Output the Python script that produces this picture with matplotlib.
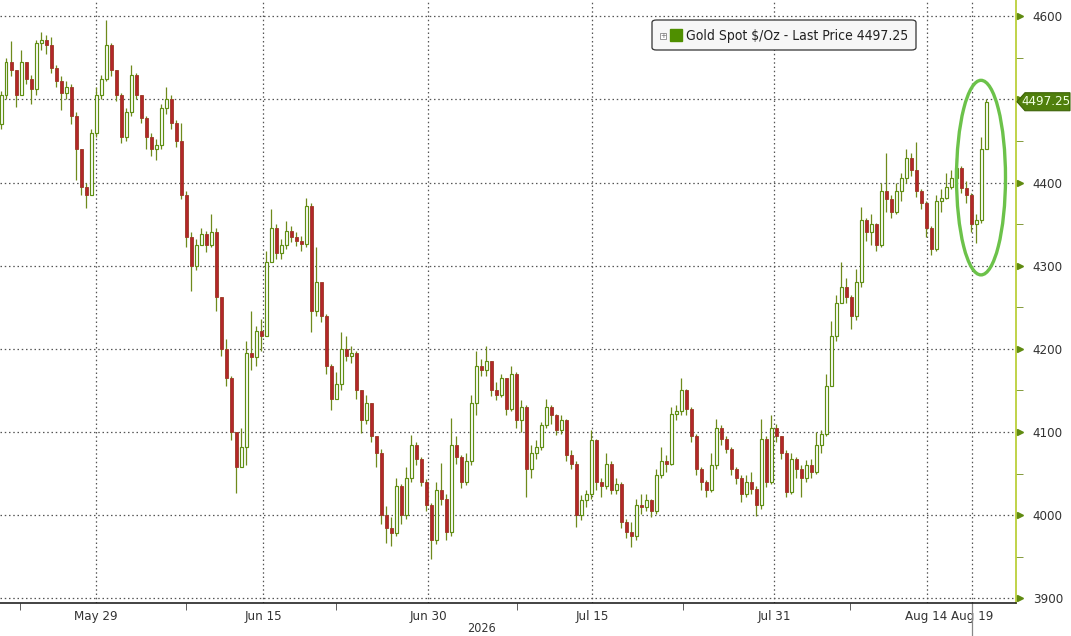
import matplotlib
matplotlib.use("Agg")
import matplotlib.pyplot as plt
import matplotlib.transforms as mtransforms
from matplotlib import font_manager
from matplotlib.patches import Ellipse, FancyBboxPatch, Rectangle, Polygon

# gold spot bars (open of each bar = previous close)
first_open = 4470
close = [4505, 4545, 4535, 4505, 4545, 4525, 4512, 4568, 4572, 4565,
         4538, 4522, 4508, 4515, 4480, 4440, 4395, 4385, 4460, 4505,
         4525, 4565, 4535, 4505, 4455, 4485, 4530, 4505, 4478, 4455,
         4440, 4445, 4490, 4500, 4472, 4450, 4385, 4335, 4300, 4325,
         4338, 4325, 4340, 4262, 4200, 4165, 4100, 4058, 4082, 4195,
         4190, 4222, 4215, 4305, 4345, 4315, 4325, 4342, 4335, 4330,
         4326, 4372, 4245, 4280, 4240, 4180, 4140, 4158, 4200, 4192,
         4195, 4150, 4115, 4135, 4095, 4075, 4000, 3985, 3978, 4035,
         4000, 4045, 4085, 4068, 4040, 4012, 3970, 4030, 4020, 3980,
         4085, 4070, 4040, 4065, 4135, 4180, 4175, 4185, 4150, 4145,
         4165, 4128, 4170, 4115, 4130, 4055, 4075, 4082, 4108, 4130,
         4120, 4102, 4115, 4072, 4062, 4000, 4018, 4025, 4090, 4040,
         4035, 4062, 4030, 4038, 3992, 3980, 3975, 4012, 4010, 4018,
         4005, 4048, 4065, 4062, 4122, 4125, 4150, 4128, 4095, 4055,
         4040, 4030, 4060, 4105, 4092, 4080, 4055, 4045, 4025, 4040,
         4032, 4012, 4092, 4040, 4105, 4095, 4075, 4028, 4068, 4055,
         4045, 4060, 4052, 4085, 4098, 4155, 4215, 4255, 4275, 4262,
         4240, 4280, 4355, 4340, 4350, 4325, 4390, 4380, 4365, 4390,
         4405, 4430, 4415, 4390, 4375, 4345, 4320, 4378, 4382, 4395,
         4405, 4418, 4393, 4385, 4350, 4355, 4440, 4497.25]
high = [4510, 4550, 4570, 4535, 4560, 4545, 4530, 4572, 4581, 4578,
        4575, 4542, 4528, 4522, 4518, 4485, 4440, 4400, 4465, 4515,
        4530, 4596, 4568, 4535, 4508, 4490, 4541, 4532, 4505, 4480,
        4460, 4452, 4495, 4515, 4505, 4475, 4472, 4390, 4340, 4332,
        4345, 4342, 4362, 4345, 4262, 4212, 4168, 4100, 4105, 4210,
        4246, 4228, 4236, 4318, 4368, 4350, 4332, 4354, 4348, 4340,
        4336, 4382, 4375, 4322, 4275, 4242, 4182, 4172, 4220, 4215,
        4203, 4198, 4150, 4145, 4135, 4090, 4080, 4011, 3998, 4045,
        4038, 4058, 4097, 4088, 4070, 4043, 4015, 4040, 4063, 4025,
        4117, 4095, 4072, 4075, 4145, 4197, 4188, 4203, 4185, 4160,
        4170, 4165, 4180, 4172, 4138, 4132, 4085, 4090, 4112, 4140,
        4133, 4122, 4120, 4116, 4078, 4065, 4024, 4030, 4103, 4092,
        4045, 4075, 4065, 4045, 4040, 3995, 3992, 4020, 4026, 4025,
        4020, 4055, 4082, 4072, 4130, 4132, 4165, 4152, 4130, 4098,
        4058, 4042, 4075, 4116, 4108, 4095, 4082, 4058, 4048, 4048,
        4052, 4035, 4116, 4095, 4120, 4110, 4095, 4078, 4075, 4070,
        4060, 4066, 4068, 4100, 4102, 4170, 4234, 4265, 4304, 4285,
        4265, 4296, 4371, 4358, 4362, 4352, 4400, 4435, 4385, 4400,
        4412, 4441, 4435, 4449, 4392, 4378, 4348, 4385, 4392, 4412,
        4415, 4430, 4420, 4402, 4388, 4362, 4455, 4500]
low = [4465, 4500, 4528, 4491, 4505, 4518, 4495, 4505, 4560, 4555,
       4532, 4515, 4487, 4500, 4470, 4403, 4385, 4370, 4385, 4455,
       4500, 4522, 4528, 4498, 4448, 4450, 4480, 4500, 4472, 4441,
       4432, 4427, 4440, 4482, 4465, 4443, 4380, 4322, 4270, 4295,
       4325, 4316, 4322, 4245, 4192, 4155, 4090, 4027, 4068, 4060,
       4175, 4180, 4198, 4262, 4320, 4308, 4308, 4320, 4328, 4324,
       4318, 4322, 4220, 4240, 4232, 4170, 4127, 4140, 4150, 4185,
       4183, 4140, 4099, 4110, 4088, 4058, 3990, 3967, 3963, 3975,
       3990, 3995, 4040, 4060, 4035, 4005, 3947, 3965, 4012, 3970,
       3975, 4062, 4033, 4036, 4060, 4120, 4168, 4168, 4143, 4138,
       4142, 4120, 4125, 4105, 4100, 4022, 4045, 4068, 4078, 4105,
       4110, 4096, 4098, 4065, 4055, 3986, 3994, 4010, 4020, 4030,
       4022, 4032, 4025, 4026, 3985, 3972, 3962, 3970, 4002, 4005,
       3998, 4002, 4045, 4052, 4060, 4115, 4120, 4120, 4088, 4048,
       4030, 4022, 4028, 4055, 4085, 4075, 4048, 4038, 4016, 4022,
       4025, 3999, 4008, 4034, 4038, 4088, 4068, 4022, 4025, 4045,
       4022, 4040, 4045, 4050, 4075, 4095, 4162, 4210, 4262, 4255,
       4224, 4235, 4275, 4330, 4325, 4318, 4322, 4365, 4357, 4362,
       4378, 4400, 4408, 4383, 4368, 4335, 4313, 4318, 4365, 4380,
       4392, 4400, 4388, 4375, 4340, 4327, 4352, 4470]
last_price = 4497.25

date_labels = ["May 29", "Jun 15", "Jun 30", "Jul 15", "Jul 31", "Aug 14", "Aug 19"]
date_bars = [19, 52.4, 85.4, 118.2, 154.6, 185.1, 194.2]
week_bars = [3.8, 37, 67, 103.2, 136.4, 169.8]
year_label = "2026"
year_bar = 96
price_ticks = [3900, 4000, 4100, 4200, 4300, 4400, 4500, 4600]
# 4500 sits under the last price tag, so its label is not shown
price_labels = ["3900", "4000", "4100", "4200", "4300", "4400", "", "4600"]
legend_text = "Gold Spot \\$/Oz - Last Price 4497.25"

# narrow font like the terminal uses, if there is one
names = {f.name for f in font_manager.fontManager.ttflist}
if "Liberation Sans Narrow" in names:
    font = dict(family="Liberation Sans Narrow")
else:
    font = dict(family="DejaVu Sans", stretch="condensed")

UP = "#5f8f12"
DOWN = "#b3262b"
WICK = "#6f8a1c"
TXT = "#333333"
W, H = 1071, 636

fig = plt.figure(figsize=(W / 100, H / 100), dpi=100)
ax = fig.add_axes([0, 1 - 603 / H, 1016 / W, 603 / H])

opens = [first_open] + close[:-1]
idx = list(range(len(close)))

ax.vlines(idx, low, high, color=WICK, linewidth=0.9, zorder=2)
for i in idx:
    o, c = opens[i], close[i]
    bot = min(o, c)
    h = max(abs(c - o), 1.0)
    if c >= o:
        ax.add_patch(Rectangle((i - 0.3, bot), 0.6, h, facecolor="white",
                               edgecolor=UP, linewidth=0.85, zorder=3))
    else:
        ax.add_patch(Rectangle((i - 0.3, bot), 0.6, h, facecolor=DOWN,
                               edgecolor="#9a3a22", linewidth=0.6, zorder=3))

ax.set_xlim(-0.2, 203)
ax.set_ylim(3894.4, 4619.6)

# dotted grid
for p in price_ticks:
    ax.axhline(p, color="#555555", linestyle=(0, (1.2, 2.2)), linewidth=0.9, zorder=1)
for b in date_bars:
    ax.axvline(b, color="#555555", linestyle=(0, (1.2, 2.2)), linewidth=0.9, zorder=1)

# spines
for s in ["top", "left"]:
    ax.spines[s].set_visible(False)
ax.spines["right"].set_color("#b5cc2a")
ax.spines["right"].set_linewidth(1.2)
ax.spines["bottom"].set_color("#222222")
ax.spines["bottom"].set_linewidth(1.2)

# y axis on the right
ax.yaxis.tick_right()
ax.set_yticks(price_ticks)
ax.set_yticklabels(price_labels, color=TXT, fontsize=9.5, **font)
ax.set_yticks([p + 50 for p in price_ticks[:-1]], minor=True)
ax.tick_params(axis="y", which="major", length=0, pad=12)
ax.tick_params(axis="y", which="minor", length=5, color="#6f8a1c", direction="out")
tr = mtransforms.blended_transform_factory(ax.transAxes, ax.transData)
ax.plot([1.004] * len(price_ticks), price_ticks, linestyle="none", marker=">",
        markersize=5, color="#5f8a10", transform=tr, clip_on=False, zorder=5)

# x axis
ax.set_xticks(date_bars)
ax.set_xticklabels(date_labels, color=TXT, fontsize=9.5, **font)
ax.set_xticks(week_bars, minor=True)
ax.tick_params(axis="x", which="major", length=0, pad=5)
ax.tick_params(axis="x", which="minor", length=5, color="#444444", direction="out")
trx = mtransforms.blended_transform_factory(ax.transData, ax.transAxes)
ax.text(year_bar, -(628 - 603) / 603, year_label, transform=trx, ha="center",
        va="center", color=TXT, fontsize=9, **font)
# today marker running below the axis
ax.plot([date_bars[-1], date_bars[-1]], [0, -0.06], transform=trx, color="#888888",
        linewidth=0.9, clip_on=False)

# circled last move
ax.add_patch(Ellipse((196, 4406), 9.8, 234, fill=False, edgecolor="#6cc24a",
                     linewidth=2.4, zorder=6))

# last price tag, drawn in figure pixels
yp = ax.transData.transform((0, last_price))[1]
tag = [(1017, yp), (1025, yp + 9), (1070, yp + 9), (1070, yp - 9), (1025, yp - 9)]
fig.patches.append(Polygon([(x / W, y / H) for x, y in tag], closed=True,
                           transform=fig.transFigure, facecolor="#4f7f0c",
                           edgecolor="#3c6306", linewidth=0.8, zorder=7))
fig.text(1046 / W, yp / H, f"{last_price:.2f}", ha="center", va="center",
         color="#f0ffe0", fontsize=9.5, zorder=8, **font)

# legend box
fig.patches.append(FancyBboxPatch((652 / W, 1 - 50 / H), 264 / W, 30 / H,
                                  boxstyle="round,pad=0,rounding_size=0.004",
                                  transform=fig.transFigure, facecolor="#f7f7f7",
                                  edgecolor="#333333", linewidth=0.9, zorder=8))
fig.patches.append(Rectangle((660 / W, 1 - 39 / H), 6 / W, 6 / H,
                             transform=fig.transFigure, facecolor="white",
                             edgecolor="#888888", linewidth=0.6, zorder=9))
fig.text(663 / W, 1 - 36 / H, "+", ha="center", va="center", fontsize=5,
         color="#666666", zorder=10)
fig.patches.append(Rectangle((670 / W, 1 - 41 / H), 12 / W, 12 / H,
                             transform=fig.transFigure, facecolor="#4f8f00",
                             edgecolor="#4f8f00", zorder=9))
fig.text(686 / W, 1 - 36 / H, legend_text, ha="left", va="center",
         fontsize=10, color="#222222", zorder=10, **font)

fig.savefig("out.png", dpi=100, facecolor="white")
